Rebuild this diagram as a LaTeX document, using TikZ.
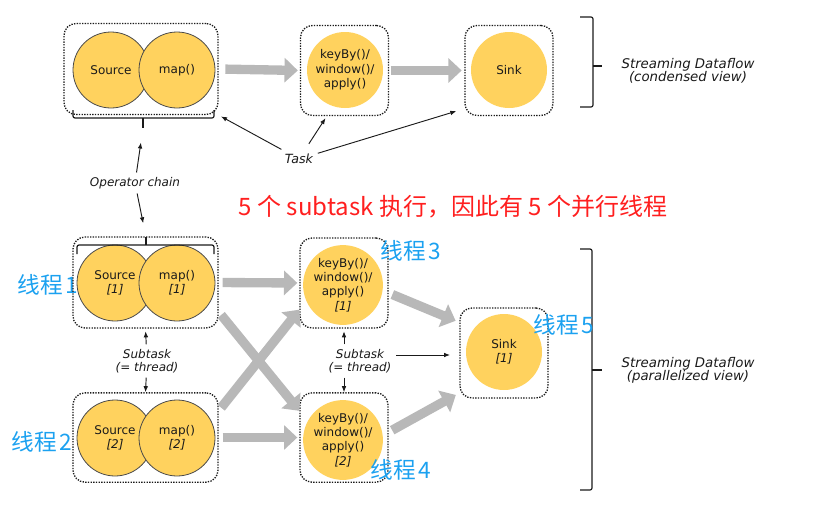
\documentclass[tikz,border=0pt]{standalone}
\usepackage{fontspec}
\setmainfont{DejaVu Sans}
\newfontfamily\cjk{Noto Sans CJK SC}
\usetikzlibrary{arrows.meta}
\definecolor{ink}{HTML}{1A1A1A}
\definecolor{opfill}{HTML}{FFD25E}
\definecolor{oprim}{HTML}{4A4A4A}
\definecolor{flowgr}{HTML}{B8B8B8}
\definecolor{thrblue}{HTML}{1BA1F0}
\definecolor{alert}{HTML}{FF1F1F}
\tikzset{
  op/.style={circle,fill=opfill,minimum size=57pt,inner sep=0pt,align=center,
             text=ink,font=\fontsize{9}{10.8}\selectfont},
  chained/.style={op,draw=oprim,line width=0.6pt},
  slot/.style={draw=ink,line width=1pt,dash pattern=on 1pt off 1pt,
               rounded corners=9pt,minimum width=66pt,minimum height=67.5pt},
  flow/.style={draw=flowgr,line width=7pt,-{Triangle[length=10pt,width=18pt]}},
  note/.style={text=ink,align=center,font=\fontsize{9}{10}\selectfont\itshape},
  callout/.style={ink,line width=0.7pt,-{Latex[length=4.5pt,width=3.5pt]}},
  brk/.style={ink,line width=0.9pt,rounded corners=1.5pt},
  thread/.style={text=thrblue,font=\cjk\fontsize{17}{20}\selectfont}
}
\newcommand{\pair}[5]{%
  \node[chained] (src#1) at (#2,#4) {Source#5};
  \node[chained] (map#1) at (#3,#4) {map()#5};}

\begin{document}
\begin{tikzpicture}[x=0.75pt,y=-0.75pt]
  \useasboundingbox (0,0) rectangle (838,521);
  \node[thread,anchor=west] (thr1) at (13,285) {线程\hspace{2pt}1};

  \node[slot,minimum width=115.5pt,minimum height=68.25pt] (chainA) at (141,69) {};
  \node[slot] (keyA) at (344.5,70.5) {};
  \node[slot] (sinkA) at (509,70.5) {};
  \node[slot,minimum width=108.75pt,minimum height=68.25pt] (chainB1) at (145.5,282.5) {};
  \node[slot,minimum width=108.75pt,minimum height=67pt] (chainB2) at (145.5,437.5) {};
  \node[slot] (keyB1) at (344,283) {};
  \node[slot,minimum height=67pt] (keyB2) at (344,437.5) {};
  \node[slot] (sinkB) at (504,353) {};

  \pair{A}{111}{177}{70}{}
  \pair{B1}{115}{177}{283}{\\\textit{[1]}}
  \pair{B2}{115}{177}{438}{\\\textit{[2]}}
  \node[op] (keyopA) at (345,70) {keyBy()/\\window()/\\apply()};
  \node[op] (sinkopA) at (509,70) {Sink};
  \node[op] (keyopB1) at (343,285) {keyBy()/\\window()/\\apply()\\\textit{[1]}};
  \node[op] (keyopB2) at (343,440) {keyBy()/\\window()/\\apply()\\\textit{[2]}};
  \node[op] (sinkopB) at (504,352) {Sink\\\textit{[1]}};

  \draw[brk] (73,110) -- (73,118) -- (214,118) -- (214,110);
  \draw[brk] (143,118) -- (143,128) coordinate (chaintop);
  \draw[brk] (77,254) -- (77,245) -- (214,245) -- (214,254);
  \draw[brk] (146,245) -- (146,237) coordinate (chainbot);
  \draw[brk] (580,17) -- (593,17) -- (593,107) -- (580,107);
  \draw[brk] (593,66) -- (602,66);
  \draw[brk] (580,249) -- (592,249) -- (592,490) -- (580,490);
  \draw[brk] (592,370) -- (602,370);

  \draw[flow,shorten <=5pt,shorten >=1.5pt] (chainA.east) -- (keyA.west);
  \draw[flow,shorten <=1pt,shorten >=2pt] (keyA.east) -- (sinkA.west);
  \draw[flow,shorten <=3pt,shorten >=1.5pt] (chainB1.east) -- (keyB1.west);
  \draw[flow,shorten <=3pt,shorten >=1.5pt] (chainB2.east) -- (keyB2.west);
  \draw[flow,shorten <=3pt] ([yshift=-22pt]chainB1.east) -- ([yshift=20pt]keyB2.west);
  \draw[flow,shorten <=3pt] ([yshift=20pt]chainB2.east) -- ([yshift=-20pt]keyB1.west);
  \draw[flow,shorten <=3pt,shorten >=3pt] ([yshift=-7.5pt]keyB1.east) -- ([yshift=23pt]sinkB.west);
  \draw[flow,shorten <=3pt,shorten >=3pt] ([yshift=4pt]keyB2.east) -- ([yshift=-30pt]sinkB.west);

  \node[note,font=\fontsize{9.5}{10}\selectfont\itshape] (task) at (299,159) {Task};
  \node[note] (opchain) at (135,183) {Operator chain};
  \node[note] (subL) at (147,361) {Subtask\\(= thread)};
  \node[note] (subM) at (360,361) {Subtask\\(= thread)};
  \node[note,font=\fontsize{10}{10}\selectfont\itshape] (viewA) at (688,71)
       {Streaming Dataflow\\(condensed view)};
  \node[note,font=\fontsize{10}{10}\selectfont\itshape] (viewB) at (688,370)
       {Streaming Dataflow\\(parallelized view)};

  \draw[callout,shorten >=2pt] (task) -- (chainA.south east);
  \draw[callout,shorten <=5pt] (task) -- ([shift={(-19,2)}]keyA.south);
  \draw[callout] (task) -- ([shift={(-8,-5)}]sinkA.south west);
  \draw[callout,shorten >=11pt] (opchain) -- (chaintop);
  \draw[callout,shorten >=10.5pt] (opchain) -- (chainbot);
  \draw[callout,shorten >=2pt] (subL) -- (chainB1.south);
  \draw[callout] (subL) -- (chainB2.north);
  \draw[callout,shorten >=2pt] (subM.north -| keyB1.south) -- (keyB1.south);
  \draw[callout] (subM.south -| keyB2.north) -- (keyB2.north);
  \draw[callout,shorten >=7pt] ([yshift=4.5pt]subM.east) -- ([yshift=-1.5pt]sinkB.west);

  \node[thread,anchor=west] (thr2) at (7,442) {线程\hspace{2pt}2};
  \node[thread,anchor=west] (thr3) at (376,251) {线程\hspace{2pt}3};
  \node[thread,anchor=west] (thr4) at (366,470) {线程\hspace{2pt}4};
  \node[thread,anchor=west] (thr5) at (529,325) {线程\hspace{2pt}5};
  \node[text=alert,font=\cjk\fontsize{18}{20}\selectfont] (headline) at (453,207)
       {5 个 subtask 执行，因此有 5 个并行线程};
\end{tikzpicture}
\end{document}
